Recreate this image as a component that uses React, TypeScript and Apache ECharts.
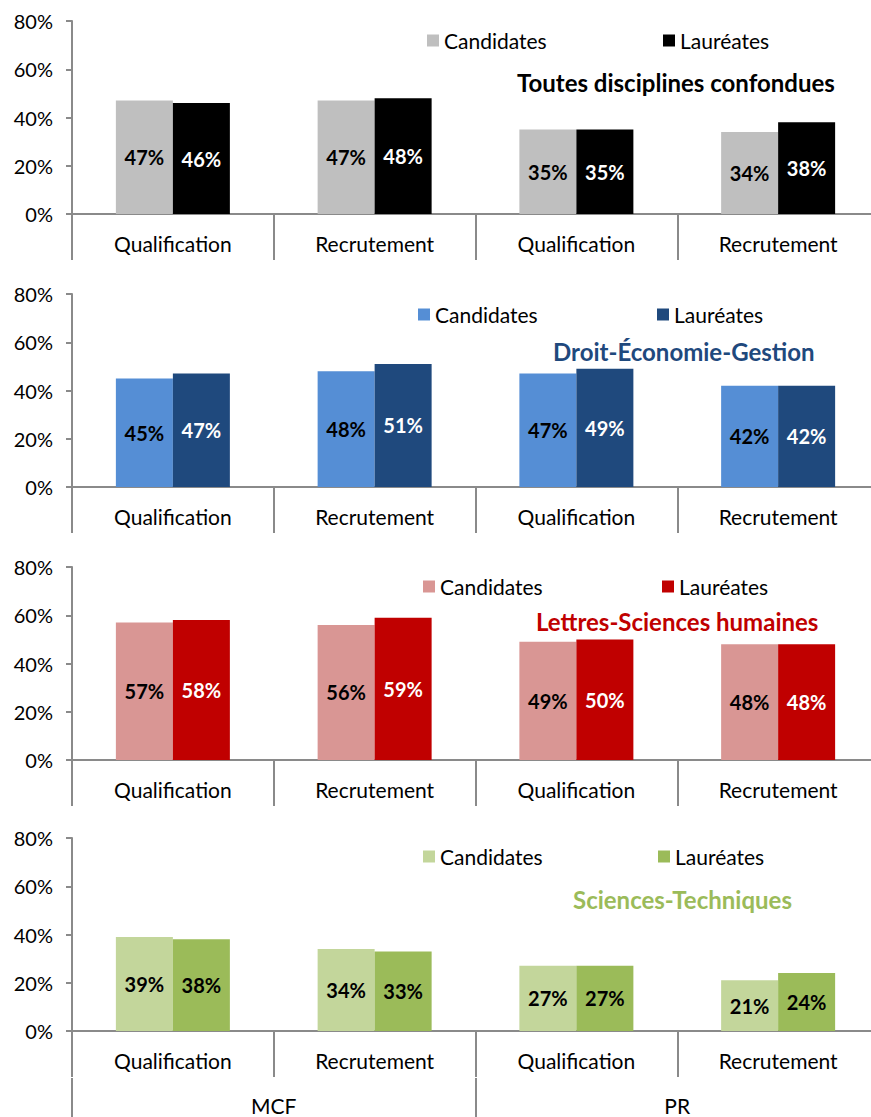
import React, { useEffect, useRef } from "react";
import * as echarts from "echarts";

const categories = ["Qualification", "Recrutement", "Qualification", "Recrutement"];
const groups = ["MCF", "PR"];
const yTicks = [0, 20, 40, 60, 80];

const panelTitles = [
  "Toutes disciplines confondues",
  "Droit-Économie-Gestion",
  "Lettres-Sciences humaines",
  "Sciences-Techniques",
];

const candidatesAll = [47, 47, 35, 34];
const laureatesAll = [46, 48, 35, 38];
const candidatesDEG = [45, 48, 47, 42];
const laureatesDEG = [47, 51, 49, 42];
const candidatesLSH = [57, 56, 49, 48];
const laureatesLSH = [58, 59, 50, 48];
const candidatesST = [39, 34, 27, 21];
const laureatesST = [38, 33, 27, 24];

const panelData = [
  [candidatesAll, laureatesAll],
  [candidatesDEG, laureatesDEG],
  [candidatesLSH, laureatesLSH],
  [candidatesST, laureatesST],
];

const candColors = ["#BFBFBF", "#558ED5", "#D99694", "#C3D69B"];
const laurColors = ["#000000", "#1F497D", "#C00000", "#9BBB59"];
const titleColors = ["#000000", "#1F497D", "#C00000", "#9BBB59"];
const laurLabelColors = ["#FFFFFF", "#FFFFFF", "#FFFFFF", "#000000"];

const FONT = "Lato, 'Open Sans', sans-serif";
const AXIS_COLOR = "#8A8A8A";

const panelTops = [21, 294, 567, 838];
const PANEL_H = 193;
const titleLefts = [517, 553, 536, 573];
const titleTops = [70, 339, 609, 887];
const legendTops = [30, 304, 576, 846];
const legendCandLefts = [427, 418, 423, 423];
const legendLaurLefts = [663, 657, 662, 658];

export default function App() {
  const ref = useRef<HTMLDivElement>(null);
  useEffect(() => {
    if (!ref.current) return;
    const chart = echarts.init(ref.current, undefined, { renderer: "svg" });

    const grid: any[] = [];
    const xAxis: any[] = [];
    const yAxis: any[] = [];
    const series: any[] = [];
    const legend: any[] = [];
    const title: any[] = [];

    panelTops.forEach((top, i) => {
      grid.push({
        left: 72,
        top,
        width: 807,
        height: PANEL_H,
        containLabel: false,
        outerBoundsMode: "none",
      });
      xAxis.push({
        type: "category",
        gridIndex: i,
        data: categories,
        axisLine: { show: true, lineStyle: { color: AXIS_COLOR, width: 2 } },
        axisTick: { show: true, length: 46, lineStyle: { color: AXIS_COLOR, width: 2 } },
        axisLabel: { color: "#000", fontSize: 21, fontFamily: FONT, margin: 19 },
      });
      yAxis.push({
        type: "value",
        gridIndex: i,
        min: yTicks[0],
        max: yTicks[yTicks.length - 1],
        interval: 20,
        axisLine: { show: true, lineStyle: { color: AXIS_COLOR, width: 2 } },
        axisTick: { show: true, length: 6, lineStyle: { color: AXIS_COLOR, width: 2 } },
        splitLine: { show: false },
        axisLabel: { color: "#000", fontSize: 20, fontFamily: FONT, margin: 19, formatter: "{value}%" },
      });
      const [cand, laur] = panelData[i];
      series.push({
        type: "bar",
        name: "Candidates",
        xAxisIndex: i,
        yAxisIndex: i,
        data: cand,
        barWidth: 57,
        barGap: "0%",
        itemStyle: { color: candColors[i] },
        label: {
          show: true,
          position: "inside",
          formatter: "{c}%",
          color: "#000",
          fontSize: 20,
          fontWeight: "bold",
          fontFamily: FONT,
        },
      });
      series.push({
        type: "bar",
        name: "Lauréates",
        xAxisIndex: i,
        yAxisIndex: i,
        data: laur,
        barWidth: 57,
        barGap: "0%",
        itemStyle: { color: laurColors[i] },
        label: {
          show: true,
          position: "inside",
          formatter: "{c}%",
          color: laurLabelColors[i],
          fontSize: 20,
          fontWeight: "bold",
          fontFamily: FONT,
        },
      });
      legend.push({
        left: legendCandLefts[i],
        top: legendTops[i],
        padding: 0,
        itemWidth: 12,
        itemHeight: 12,
        selectedMode: false,
        icon: "rect",
        textStyle: { fontSize: 21, fontFamily: FONT, color: "#000" },
        data: [{ name: "Candidates", itemStyle: { color: candColors[i] } }],
      });
      legend.push({
        left: legendLaurLefts[i],
        top: legendTops[i],
        padding: 0,
        itemWidth: 12,
        itemHeight: 12,
        selectedMode: false,
        icon: "rect",
        textStyle: { fontSize: 21, fontFamily: FONT, color: "#000" },
        data: [{ name: "Lauréates", itemStyle: { color: laurColors[i] } }],
      });
      title.push({
        text: panelTitles[i],
        left: titleLefts[i],
        top: titleTops[i],
        padding: 0,
        textStyle: { fontSize: 24, fontWeight: "bold", fontFamily: FONT, color: titleColors[i] },
      });
    });

    xAxis.push({
      type: "category",
      gridIndex: 3,
      position: "bottom",
      offset: 47,
      data: groups,
      axisLine: { show: false },
      axisTick: { show: true, length: 42, lineStyle: { color: AXIS_COLOR, width: 2 } },
      axisLabel: { color: "#000", fontSize: 21, fontFamily: FONT, margin: 17 },
    });

    chart.setOption({
      animation: false,
      backgroundColor: "#FFFFFF",
      textStyle: { fontFamily: FONT },
      grid,
      xAxis,
      yAxis,
      series,
      legend,
      title,
    });
    return () => chart.dispose();
  }, []);

  return (
    <div
      ref={ref}
      style={{ position: "fixed", left: 0, top: 0, width: 871, height: 1117, background: "#fff" }}
    />
  );
}
